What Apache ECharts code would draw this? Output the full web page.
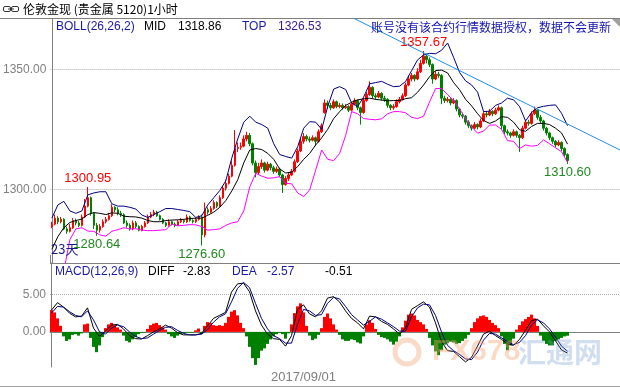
<!DOCTYPE html>
<html><head><meta charset="utf-8">
<script src="https://cdn.jsdelivr.net/npm/echarts@6/dist/echarts.min.js"></script>
<style>html,body{margin:0;padding:0;background:#fff}#c{width:620px;height:388px}</style>
</head><body><div id="c"></div>
<script>
// ---- candles (hourly) ----
const opens = [
1284.5,1285.5,1288.0,1286.5,1287.5,1283.5,1282.5,1284.0,1287.0,1286.0,
1285.0,1288.5,1293.0,1296.5,1290.0,1285.0,1283.0,1284.5,1286.5,1287.5,
1289.0,1292.5,1291.5,1290.0,1289.5,1286.0,1285.0,1283.5,1286.0,1284.5,
1283.0,1284.5,1286.0,1288.5,1289.5,1290.5,1289.0,1287.5,1286.0,1285.0,
1286.5,1285.5,1285.0,1286.5,1287.0,1286.5,1288.5,1287.0,1286.5,1287.5,
1288.5,1281.0,1291.5,1290.5,1292.0,1294.5,1293.0,1296.5,1300.5,1302.5,
1305.5,1310.0,1317.0,1317.5,1318.0,1321.0,1322.5,1319.0,1311.0,1307.0,
1309.5,1311.0,1308.0,1310.5,1309.0,1307.5,1308.5,1306.0,1302.0,1304.5,
1306.0,1307.5,1311.5,1316.0,1320.0,1322.0,1321.0,1320.5,1321.5,1320.0,
1324.0,1332.0,1336.0,1335.0,1334.0,1336.5,1334.5,1335.0,1334.0,1334.5,
1333.0,1335.5,1337.0,1334.0,1332.0,1337.0,1339.5,1342.5,1339.0,1338.5,
1340.0,1338.0,1337.5,1335.0,1334.0,1334.5,1336.5,1337.5,1339.0,1343.5,
1346.0,1347.5,1346.0,1349.0,1352.5,1355.5,1354.0,1352.0,1346.0,1348.0,
1347.5,1338.0,1337.0,1337.5,1336.0,1337.0,1333.5,1331.0,1330.5,1328.0,
1326.5,1325.5,1327.0,1326.0,1328.5,1331.5,1331.0,1332.5,1331.5,1333.0,
1334.0,1326.5,1324.0,1323.5,1322.5,1324.0,1322.5,1321.5,1325.5,1328.0,
1327.5,1331.5,1333.0,1330.0,1328.5,1325.5,1323.5,1321.5,1320.0,1318.5,
1319.5,1317.0,1314.5];
const closes = [
1285.5,1288.0,1286.5,1287.5,1283.5,1282.5,1284.0,1287.0,1286.0,1285.0,
1288.5,1293.0,1296.5,1290.0,1285.0,1283.0,1284.5,1286.5,1287.5,1289.0,
1292.5,1291.5,1290.0,1289.5,1286.0,1285.0,1283.5,1286.0,1284.5,1283.0,
1284.5,1286.0,1288.5,1289.5,1290.5,1289.0,1287.5,1286.0,1285.0,1286.5,
1285.5,1285.0,1286.5,1287.0,1286.5,1288.5,1287.0,1286.5,1287.5,1288.5,
1281.0,1291.5,1290.5,1292.0,1294.5,1293.0,1296.5,1300.5,1302.5,1305.5,
1310.0,1317.0,1317.5,1318.0,1321.0,1322.5,1319.0,1311.0,1307.0,1309.5,
1311.0,1308.0,1310.5,1309.0,1307.5,1308.5,1306.0,1302.0,1304.5,1306.0,
1307.5,1311.5,1316.0,1320.0,1322.0,1321.0,1320.5,1321.5,1320.0,1324.0,
1326.5,1336.0,1335.0,1334.0,1336.5,1334.5,1335.0,1334.0,1334.5,1333.0,
1335.5,1337.0,1334.0,1332.0,1337.0,1339.5,1342.5,1339.0,1338.5,1340.0,
1338.0,1337.5,1335.0,1334.0,1334.5,1336.5,1337.5,1339.0,1343.5,1346.0,
1347.5,1346.0,1349.0,1352.5,1355.5,1354.0,1352.0,1346.0,1348.0,1347.5,
1338.0,1337.0,1337.5,1336.0,1337.0,1333.5,1331.0,1330.5,1328.0,1326.5,
1325.5,1327.0,1326.0,1328.5,1331.5,1331.0,1332.5,1331.5,1333.0,1334.0,
1326.5,1324.0,1323.5,1322.5,1324.0,1322.5,1321.5,1325.5,1328.0,1327.5,
1331.5,1333.0,1330.0,1328.5,1325.5,1323.5,1321.5,1320.0,1318.5,1319.5,
1317.0,1314.5,1312.0];
const lows = [
1283.8,1285.0,1285.5,1285.8,1283.0,1281.5,1282.0,1283.5,1285.0,1284.2,
1284.5,1288.0,1292.5,1289.0,1283.5,1280.64,1282.0,1284.0,1285.8,1287.0,
1288.5,1290.5,1289.2,1288.5,1285.5,1284.0,1282.8,1283.0,1283.8,1282.5,
1282.5,1284.0,1285.5,1288.0,1288.8,1288.5,1287.0,1285.5,1284.3,1284.5,
1285.0,1284.2,1284.8,1286.0,1285.8,1286.0,1286.5,1285.8,1286.0,1287.0,
1276.6,1280.0,1289.5,1290.0,1291.5,1292.2,1292.5,1296.0,1299.5,1302.0,
1305.0,1309.5,1315.5,1316.5,1317.5,1320.0,1318.0,1310.0,1305.0,1306.0,
1308.5,1307.0,1307.5,1308.0,1306.5,1306.8,1305.0,1298.5,1301.5,1303.5,
1305.5,1307.0,1311.0,1315.5,1319.0,1320.0,1319.5,1320.0,1318.0,1319.5,
1323.5,1331.5,1333.5,1333.0,1333.5,1333.8,1333.8,1333.2,1333.5,1332.2,
1332.5,1335.0,1333.0,1327.0,1331.5,1336.5,1339.0,1338.0,1337.5,1338.0,
1337.0,1336.5,1334.0,1333.0,1333.2,1334.0,1335.8,1337.0,1338.5,1343.0,
1345.0,1345.0,1345.5,1348.5,1352.0,1352.5,1351.0,1344.0,1345.5,1346.5,
1335.5,1336.0,1336.2,1335.0,1335.5,1332.5,1330.0,1329.5,1327.0,1325.5,
1324.5,1325.0,1325.0,1325.5,1328.0,1330.0,1330.5,1330.5,1331.0,1332.5,
1325.0,1323.0,1322.5,1321.5,1322.0,1321.5,1315.6,1321.0,1325.0,1326.5,
1327.0,1331.0,1329.0,1327.5,1324.5,1322.5,1320.5,1319.0,1317.5,1318.0,
1316.0,1313.5,1310.6];
const highs = [
1286.5,1289.5,1288.8,1288.5,1288.0,1284.5,1285.5,1288.0,1287.8,1286.8,
1289.5,1296.0,1300.95,1297.0,1290.5,1286.0,1285.5,1287.5,1288.5,1290.2,
1293.8,1293.0,1292.5,1291.0,1290.0,1287.0,1285.8,1287.0,1286.8,1285.0,
1285.2,1286.8,1289.5,1290.5,1291.5,1291.0,1289.5,1288.0,1286.5,1287.5,
1287.0,1286.2,1287.2,1288.0,1287.5,1289.5,1289.0,1287.5,1288.2,1289.2,
1289.5,1294.5,1292.5,1293.0,1295.5,1295.0,1297.5,1301.5,1304.0,1306.5,
1312.0,1324.7,1319.5,1319.5,1322.5,1324.0,1323.5,1319.5,1312.0,1311.0,
1312.5,1311.5,1311.5,1311.0,1309.8,1309.5,1309.0,1306.5,1305.5,1307.0,
1308.5,1312.5,1317.0,1321.5,1323.5,1322.8,1322.0,1322.5,1322.0,1325.0,
1327.5,1337.5,1337.0,1336.0,1337.5,1337.0,1336.0,1335.8,1335.5,1335.0,
1336.5,1338.0,1337.5,1334.5,1338.0,1340.5,1345.0,1343.0,1340.0,1341.0,
1340.5,1339.0,1338.0,1335.5,1335.5,1337.5,1338.5,1340.0,1344.5,1347.5,
1348.5,1348.0,1350.5,1354.0,1357.67,1356.5,1355.0,1352.5,1349.5,1349.0,
1348.0,1339.0,1338.5,1338.0,1338.0,1337.5,1334.0,1332.0,1331.0,1328.8,
1327.0,1328.0,1327.5,1329.5,1332.5,1332.5,1333.5,1333.0,1334.0,1335.0,
1334.5,1327.0,1325.0,1324.0,1325.0,1324.5,1323.0,1326.5,1329.0,1329.0,
1332.5,1334.5,1333.5,1331.0,1329.0,1326.0,1324.0,1322.0,1320.5,1320.5,
1320.0,1317.5,1315.0];

// ---- BOLL(26,26,2), read every 2nd bar ----
const lineStep = 2;
const bollTop = [
1288.0,1293.5,1295.0,1291.0,1290.0,1291.0,1297.7,1298.5,1299.0,1299.0,
1294.0,1293.0,1293.0,1292.5,1291.8,1289.3,1288.3,1289.5,1290.7,1292.0,
1292.0,1291.6,1291.2,1290.7,1288.3,1289.0,1293.5,1296.5,1299.5,1303.5,
1313.0,1321.0,1328.0,1330.5,1328.0,1327.0,1325.5,1319.0,1314.5,1313.7,
1313.0,1317.8,1325.5,1328.2,1328.0,1325.0,1334.5,1341.8,1342.8,1341.6,
1336.0,1334.5,1338.5,1344.0,1344.5,1345.0,1343.8,1342.8,1343.0,1345.0,
1349.5,1354.0,1356.0,1356.7,1356.5,1358.0,1361.0,1355.0,1348.7,1345.2,
1343.5,1340.5,1332.4,1332.6,1335.0,1336.0,1338.0,1337.3,1334.5,1328.5,
1332.0,1334.0,1334.6,1335.0,1335.2,1331.7,1326.53];
const bollMid = [
1275.0,1280.3,1284.0,1286.2,1287.0,1287.6,1289.5,1290.3,1290.0,1289.5,
1290.2,1290.0,1288.8,1288.6,1288.5,1288.0,1287.0,1286.5,1286.5,1287.0,
1287.2,1287.3,1287.5,1287.8,1288.0,1288.0,1289.2,1290.5,1292.5,1295.3,
1299.3,1304.0,1311.0,1316.4,1317.0,1316.6,1315.0,1312.5,1308.5,1306.8,
1307.2,1309.5,1312.5,1315.0,1318.5,1321.5,1325.0,1329.5,1332.4,1335.0,
1336.3,1337.3,1337.7,1338.0,1337.5,1337.2,1336.9,1337.0,1337.0,1337.8,
1338.2,1340.5,1343.5,1347.0,1349.5,1349.7,1348.5,1344.5,1341.5,1337.5,
1334.8,1331.5,1328.7,1327.5,1328.5,1330.3,1330.0,1328.0,1324.8,1324.2,
1326.2,1327.5,1327.5,1327.0,1325.5,1323.5,1318.86];
const bollBot = [
1240.0,1255.0,1266.0,1279.0,1283.5,1284.0,1282.6,1282.5,1281.0,1280.5,
1282.5,1283.2,1284.0,1283.5,1283.6,1283.0,1282.8,1282.8,1283.0,1283.2,
1285.5,1284.8,1285.0,1285.3,1285.2,1284.5,1283.0,1283.2,1283.5,1285.0,
1286.0,1286.5,1291.0,1301.0,1306.7,1305.5,1304.6,1304.8,1305.3,1302.5,
1302.3,1298.5,1297.0,1299.8,1308.0,1316.4,1312.5,1312.0,1315.0,1322.5,
1332.4,1331.5,1329.5,1329.2,1329.0,1329.4,1331.5,1332.4,1332.4,1331.9,
1330.0,1329.5,1330.5,1336.5,1342.0,1342.0,1339.5,1337.0,1333.5,1329.5,
1326.0,1323.4,1324.3,1326.8,1326.8,1325.0,1320.3,1320.0,1317.0,1318.5,
1318.0,1318.3,1320.6,1319.0,1317.3,1315.7,1311.2];

// ---- MACD(12,26,9) ----
const macdDiff = [
2.9,3.9,3.3,2.5,2.0,2.1,3.2,0.5,-0.6,0.1,
0.9,1.0,0.4,-0.5,-0.9,-0.95,-0.5,0.0,0.4,0.9,
0.5,-0.1,-0.4,-0.4,-0.4,-0.2,0.8,1.8,2.2,2.6,
5.3,6.4,6.5,5.35,2.8,0.9,-0.3,-0.9,-1.0,-1.9,
-0.5,3.0,3.6,2.4,2.0,2.8,4.5,4.7,4.0,2.8,
1.8,1.2,0.4,2.1,2.0,1.4,1.0,0.4,-0.3,0.5,
3.0,3.5,4.0,3.3,1.2,-1.3,-2.5,-2.6,-3.3,-4.0,
-3.4,-1.9,-0.3,0.1,-0.5,-1.0,-1.6,-1.8,-1.0,0.2,
1.5,1.7,0.8,0.0,-1.2,-2.4,-2.83];
const macdDea = [
2.5,3.4,3.3,2.7,2.2,2.0,2.8,1.6,0.0,-0.3,
0.5,0.9,0.7,0.0,-0.6,-0.9,-0.8,-0.3,0.2,0.6,
0.7,0.2,-0.2,-0.4,-0.4,-0.3,0.3,1.3,2.0,2.4,
4.0,5.8,6.6,5.9,3.8,1.8,0.4,-0.5,-0.9,-1.5,
-1.5,1.0,3.0,2.8,2.2,2.3,3.8,4.6,4.4,3.4,
2.3,1.6,0.9,1.4,2.0,1.7,1.2,0.7,0.1,0.1,
2.0,3.2,3.7,3.6,2.2,0.0,-1.8,-2.5,-3.0,-3.6,
-3.7,-2.7,-1.1,-0.2,-0.3,-0.8,-1.3,-1.7,-1.4,-0.5,
0.9,1.6,1.2,0.4,-0.7,-1.9,-2.57];
const macdHist = [
2.9,2.6,1.8,0.8,-0.6,-1.2,-1.0,-0.4,-0.3,-0.5,
-0.2,1.0,1.1,-0.8,-2.0,-2.7,-1.8,-0.7,0.5,1.0,
1.2,0.9,0.6,0.3,-0.5,-1.2,-1.4,-1.0,-0.7,-0.3,
-0.1,-0.1,0.4,0.9,1.1,1.2,0.9,0.6,0.3,-0.3,
-0.6,-0.8,-0.5,-0.3,-0.2,-0.1,-0.1,-0.1,0.2,0.45,
-0.3,0.8,1.3,1.2,0.9,0.8,0.9,0.8,1.2,2.0,
2.7,2.9,2.2,1.2,0.5,-0.6,-2.0,-3.5,-4.4,-3.5,
-2.5,-2.2,-1.6,-1.0,-0.6,-0.3,-0.1,-0.3,-0.9,-0.2,
1.0,2.5,3.4,3.8,2.6,0.8,-0.5,-1.1,-0.9,-0.4,
0.5,2.0,2.45,1.8,1.0,0.3,-0.4,-1.0,-1.2,-1.2,
-1.0,-1.1,-1.4,-1.55,-0.6,1.0,1.55,1.2,0.4,-0.4,
-0.7,-0.8,-1.0,-1.3,-1.7,-1.3,-0.6,0.6,1.5,2.3,
2.45,2.2,1.6,1.3,1.0,0.4,-0.8,-1.8,-2.6,-3.1,
-2.45,-1.7,-1.5,-1.3,-1.4,-1.6,-1.5,-1.2,-0.9,-0.4,
0.5,1.3,1.8,2.1,2.2,2.0,1.6,1.2,0.9,0.5,
-0.6,-1.6,-2.45,-1.8,-0.9,0.3,0.9,1.4,1.7,2.0,
2.3,1.8,0.8,-0.5,-1.2,-1.6,-1.8,-1.8,-1.2,-1.0,
-0.8,-0.6,-0.51];

// ---- axes / ticks ----
const priceTicks = [1300, 1350];
const macdTicks = [0, 5];
const totalSlots = 190;
const dateLabel = '2017/09/01';
const dateLabelSlot = 84;
const dayBreakSlot = 168;

// ---- annotations ----
const markIdx  = [12, 15, 50, 124, 172];
const markVal  = [1300.95, 1280.64, 1276.60, 1357.67, 1310.60];
const markKind = ['high', 'low', 'low', 'high', 'low'];
const trendIdx = [95, 190];
const trendVal = [1374.8, 1316.1];
const bollLegend = { mid: '1318.86', top: '1326.53' };
const macdLegend = { diff: '-2.83', dea: '-2.57', macd: '-0.51' };

const NUM = "'Liberation Sans', Arial, sans-serif";
const CJK = "'Noto Sans CJK SC', sans-serif";
const GRAY = '#808080';
const RED = '#ff0000', GREEN = '#008000', NAVY = '#000080';

const slotLabels = Array.from({length: totalSlots}, (_, i) => i === dateLabelSlot ? dateLabel : String(i));
const candleData = opens.map((o, i) => [o, closes[i], lows[i], highs[i]]);
const lineXY = arr => arr.map((v, k) => [k * lineStep, v]);

const chart = echarts.init(document.getElementById('c'), null, {renderer: 'canvas'});

function txt(x, y, text, fill, font) {
  return {type: 'text', x: x, y: y, z: 100, style: {text: text, fill: fill, font: font || ('12px ' + NUM), verticalAlign: 'middle', align: 'left'}};
}

chart.setOption({
  animation: false,
  backgroundColor: '#ffffff',
  grid: [
    {left: 50, top: 19, width: 570, height: 244},
    {left: 50, top: 263, width: 570, height: 104}
  ],
  xAxis: [
    {type: 'category', gridIndex: 0, data: slotLabels,
     axisLine: {show: true, lineStyle: {color: GRAY}},
     axisTick: {show: true, inside: true, length: 8, interval: (i) => i === dayBreakSlot, lineStyle: {color: GRAY}},
     axisLabel: {show: false}, splitLine: {show: false}},
    {type: 'category', gridIndex: 1, data: slotLabels,
     axisLine: {show: true, lineStyle: {color: GRAY}},
     axisTick: {show: true, inside: true, length: 12, interval: (i) => i === dayBreakSlot, lineStyle: {color: GRAY}},
     axisLabel: {show: true, interval: (i) => i === dateLabelSlot, color: GRAY, fontSize: 13, fontFamily: NUM, margin: 4},
     splitLine: {show: false}},
    {type: 'value', gridIndex: 0, min: -0.5, max: totalSlots - 0.5, show: false},
    {type: 'value', gridIndex: 1, min: -0.5, max: totalSlots - 0.5, show: false}
  ],
  yAxis: [
    {type: 'value', gridIndex: 0, min: 1269.3, max: 1371.0, scale: true,
     axisLine: {show: true, lineStyle: {color: GRAY}},
     axisTick: {show: false, customValues: priceTicks},
     axisLabel: {customValues: priceTicks, formatter: v => v.toFixed(2), color: GRAY, fontSize: 12, fontFamily: NUM, margin: 4},
     splitLine: {show: true, lineStyle: {color: '#a8a8a8', type: 'dotted'}}},
    {type: 'value', gridIndex: 1, min: -4.68, max: 9.18,
     axisLine: {show: true, lineStyle: {color: GRAY}},
     axisTick: {show: false, customValues: macdTicks},
     axisLabel: {customValues: macdTicks, formatter: v => v.toFixed(2), color: GRAY, fontSize: 12, fontFamily: NUM, margin: 4},
     splitLine: {show: true, lineStyle: {color: '#a8a8a8', type: 'dotted'}}}
  ],
  series: [
    {type: 'candlestick', xAxisIndex: 0, yAxisIndex: 0, data: candleData, barWidth: 2,
     itemStyle: {color: RED, color0: GREEN, borderColor: RED, borderColor0: GREEN, borderWidth: 1},
     markPoint: {
       symbol: 'rect', symbolSize: 1, itemStyle: {color: 'rgba(0,0,0,0)'},
       data: markIdx.map((idx, j) => ({
         coord: [idx, markVal[j]], value: markVal[j].toFixed(2),
         label: {show: true, position: markKind[j] === 'high' ? 'top' : 'bottom', distance: 2,
                 color: markKind[j] === 'high' ? RED : '#1f8a1f', fontSize: 13, fontFamily: NUM,
                 formatter: '{c}'}
       }))
     }},
    {type: 'line', xAxisIndex: 2, yAxisIndex: 0, data: lineXY(bollTop), symbol: 'none', clip: true,
     lineStyle: {color: NAVY, width: 1}},
    {type: 'line', xAxisIndex: 2, yAxisIndex: 0, data: lineXY(bollMid), symbol: 'none', clip: true,
     lineStyle: {color: '#000000', width: 1}},
    {type: 'line', xAxisIndex: 2, yAxisIndex: 0, data: lineXY(bollBot), symbol: 'none', clip: true,
     lineStyle: {color: '#ff00ff', width: 1}},
    {type: 'line', xAxisIndex: 2, yAxisIndex: 0, data: trendIdx.map((x, j) => [x, trendVal[j]]), symbol: 'none', clip: true,
     lineStyle: {color: '#1e8fe8', width: 1}, z: 5},
    {type: 'bar', xAxisIndex: 1, yAxisIndex: 1, data: macdHist, barWidth: 3,
     itemStyle: {color: p => p.value >= 0 ? RED : GREEN}},
    {type: 'line', xAxisIndex: 3, yAxisIndex: 1, data: lineXY(macdDiff), symbol: 'none',
     lineStyle: {color: '#000000', width: 1}, z: 4},
    {type: 'line', xAxisIndex: 3, yAxisIndex: 1, data: lineXY(macdDea), symbol: 'none',
     lineStyle: {color: NAVY, width: 1}, z: 4}
  ],
  graphic: [
    {type: 'line', shape: {x1: 0, y1: 18.5, x2: 620, y2: 18.5}, style: {stroke: GRAY, lineWidth: 1}},
    {type: 'line', shape: {x1: 0, y1: 386.5, x2: 620, y2: 386.5}, style: {stroke: '#a0a0a0', lineWidth: 1}},
    {type: 'polygon', shape: {points: [[612, 19], [620, 19], [620, 27]]}, style: {fill: '#a0a0a0'}},
    {type: 'rect', shape: {x: 3.5, y: 6.5, width: 7, height: 5, r: 1.5}, style: {fill: 'none', stroke: '#333', lineWidth: 1}},
    {type: 'rect', shape: {x: 11.5, y: 6.5, width: 7, height: 5, r: 1.5}, style: {fill: 'none', stroke: '#333', lineWidth: 1}},
    {type: 'line', shape: {x1: 8, y1: 9, x2: 14, y2: 9}, style: {stroke: '#333', lineWidth: 1}},
    txt(23, 9, '伦敦金现 (贵金属 5120)1小时', '#000000', '12px ' + CJK),
    txt(56, 27, 'BOLL(26,26,2)', '#1a1aa6'),
    txt(144, 27, 'MID', '#000000'),
    txt(178, 27, bollLegend.mid, '#000000'),
    txt(242, 27, 'TOP', '#1a1aa6'),
    txt(278, 27, bollLegend.top, '#3a1a8a'),
    txt(371, 27, '账号没有该合约行情数据授权，数据不会更新', '#1414b4', '12px ' + CJK),
    txt(51, 249, '23天', '#1a1a8c', '13px ' + CJK),
    txt(55, 272, 'MACD(12,26,9)', '#1a1aa6'),
    txt(148, 272, 'DIFF', '#000000'),
    txt(183, 272, macdLegend.diff, '#000000'),
    txt(232, 272, 'DEA', '#1a1aa6'),
    txt(267, 272, macdLegend.dea, '#1a1aa6'),
    txt(325, 272, macdLegend.macd, '#000000'),
    {type: 'circle', shape: {cx: 407, cy: 352, r: 12}, style: {fill: 'none', stroke: 'rgba(240,150,100,0.35)', lineWidth: 5}, z: 50},
    txt(432, 352, 'FX678', 'rgba(245,160,110,0.4)', 'bold 30px ' + NUM),
    txt(518, 352, '汇通网', 'rgba(120,160,210,0.35)', 'bold 28px ' + CJK)
  ]
});
</script>
</body></html>
